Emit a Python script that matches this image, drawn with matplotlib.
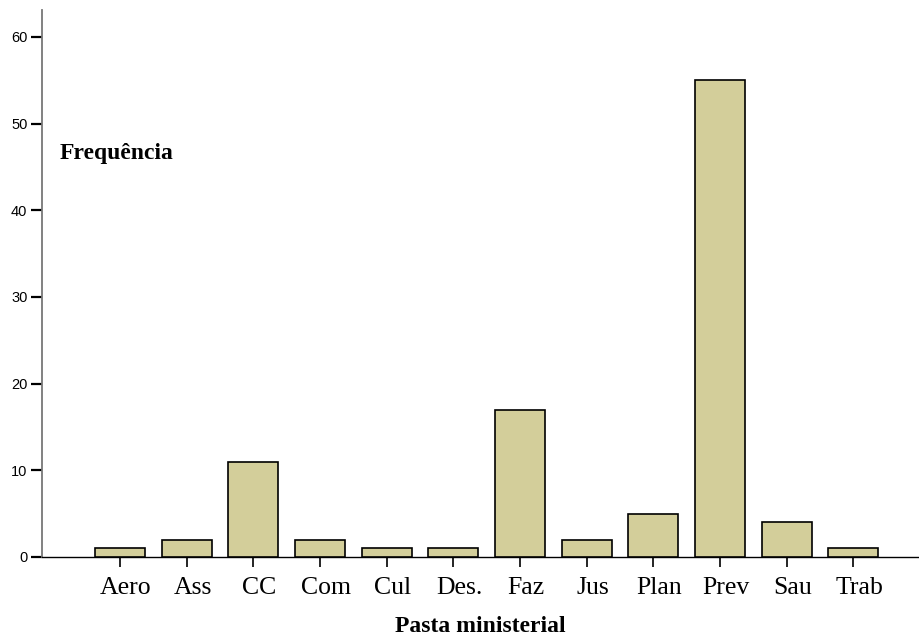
import numpy as np
import matplotlib.transforms as mtransforms
from matplotlib import pyplot as plt

categorias = ['Aero', 'Ass', 'CC', 'Com', 'Cul', 'Des.', 'Faz', 'Jus', 'Plan', 'Prev', 'Sau', 'Trab']
frequencia = [1, 2, 11, 2, 1, 1, 17, 2, 5, 55, 4, 1]
y_ticks = [0, 10, 20, 30, 40, 50, 60]

fig = plt.figure(figsize=(9.2, 6.37), dpi=100)
ax = fig.add_axes([42 / 920, 80 / 637, 876 / 920, 547 / 637])

x = np.arange(len(categorias))
ax.bar(x, frequencia, width=0.75, color='#d3ce9a', edgecolor='black', linewidth=1.2, zorder=3)

ax.set_xlim(-1.17, 11.97)
ax.set_ylim(0, 63.1)
ax.set_xticks(x)
ax.set_xticklabels(categorias, family='Liberation Serif', fontsize=18.5)
ax.set_yticks(y_ticks)
ax.set_yticklabels([str(v) for v in y_ticks], family='Liberation Sans', fontsize=10.5)
ax.tick_params(axis='x', direction='out', length=7, width=1.2, pad=7.5, color='black')
ax.tick_params(axis='y', direction='out', length=8, width=1.6, pad=2.5, color='black')

# labels sit a little right of the ticks in the original
shift = mtransforms.ScaledTranslation(0.06, 0, fig.dpi_scale_trans)
for lab in ax.get_xticklabels():
    lab.set_transform(lab.get_transform() + shift)

for s in ['top', 'right']:
    ax.spines[s].set_visible(False)
ax.spines['left'].set_color('#777777')
ax.spines['left'].set_linewidth(1.3)
ax.spines['bottom'].set_color('black')
ax.spines['bottom'].set_linewidth(1.0)

fig.text(60 / 920, 1 - 153 / 637, 'Frequência', family='Liberation Serif', fontweight='bold',
         fontsize=17, ha='left', va='center')
fig.text(480 / 920, 1 - 626 / 637, 'Pasta ministerial', family='Liberation Serif', fontweight='bold',
         fontsize=17, ha='center', va='center')

fig.savefig('out.png', dpi=100)
